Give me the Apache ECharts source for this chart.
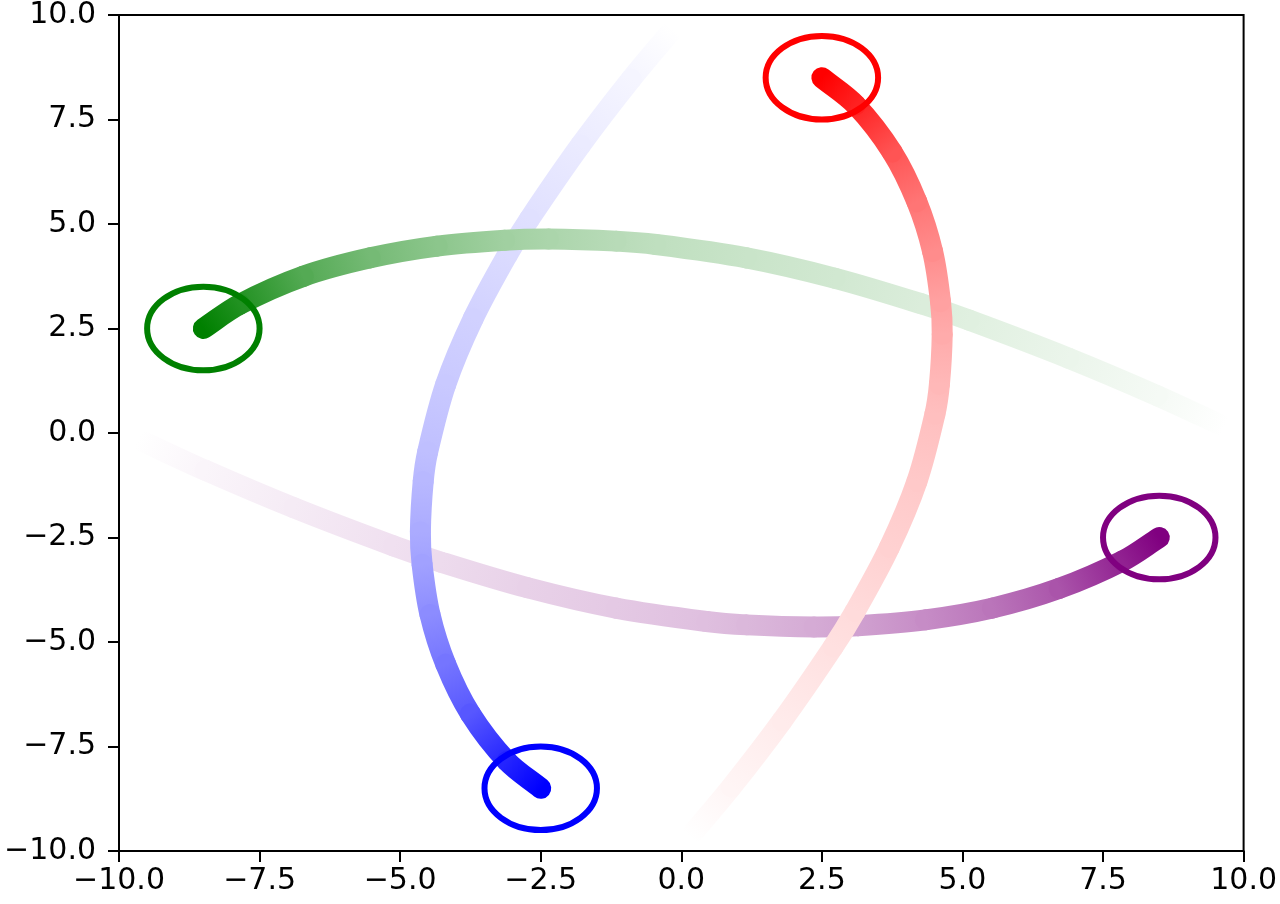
<!DOCTYPE html>
<html>
<head>
<meta charset="utf-8">
<script src="https://cdn.jsdelivr.net/npm/echarts@6/dist/echarts.min.js"></script>
<style>
html, body { margin: 0; padding: 0; background: #fff; }
#myCanvas { width: 1280px; height: 904px; }
</style>
</head>
<body>
<div id="myCanvas"></div>
<script>
// axis ticks (same on both axes)
var ticks = [-10, -7.5, -5, -2.5, 0, 2.5, 5, 7.5, 10];

// trails, tail -> head: [x, y, age] (age 0 = oldest/faded, 1 = current)
var redTrail = [
    [0.15, -9.66, 0.00], [0.89, -8.47, 0.04], [1.79, -6.89, 0.08], [2.70, -5.12, 0.12],
    [3.09, -4.27, 0.14], [3.70, -2.74, 0.18], [4.19, -1.16, 0.21], [4.51, 0.45, 0.25],
    [4.59, 1.16, 0.28], [4.64, 2.36, 0.33], [4.61, 3.14, 0.37], [4.47, 4.34, 0.45],
    [4.19, 5.53, 0.54], [3.75, 6.72, 0.67], [3.10, 7.85, 0.87], [2.50, 8.50, 1.00]
];
var greenTrail = [
    [9.66, 0.15, 0.00], [8.47, 0.89, 0.04], [6.89, 1.79, 0.08], [5.12, 2.70, 0.12],
    [4.27, 3.09, 0.14], [2.74, 3.70, 0.18], [1.16, 4.19, 0.21], [-0.45, 4.51, 0.25],
    [-1.16, 4.59, 0.28], [-2.36, 4.64, 0.33], [-3.14, 4.61, 0.37], [-4.34, 4.47, 0.45],
    [-5.53, 4.19, 0.54], [-6.72, 3.75, 0.67], [-7.85, 3.08, 0.87], [-8.50, 2.50, 1.00]
];
var blueTrail = [
    [-0.15, 9.66, 0.00], [-0.89, 8.47, 0.04], [-1.79, 6.89, 0.08], [-2.70, 5.12, 0.12],
    [-3.09, 4.27, 0.14], [-3.70, 2.74, 0.18], [-4.19, 1.16, 0.21], [-4.51, -0.45, 0.25],
    [-4.59, -1.16, 0.28], [-4.64, -2.36, 0.33], [-4.61, -3.14, 0.37], [-4.47, -4.34, 0.45],
    [-4.19, -5.53, 0.54], [-3.75, -6.72, 0.66], [-3.10, -7.85, 0.86], [-2.50, -8.50, 1.00]
];
var purpleTrail = [
    [-9.66, -0.15, 0.00], [-8.47, -0.89, 0.04], [-6.89, -1.79, 0.08], [-5.12, -2.70, 0.12],
    [-4.27, -3.09, 0.14], [-2.74, -3.70, 0.18], [-1.16, -4.19, 0.21], [0.45, -4.51, 0.25],
    [1.16, -4.59, 0.28], [2.36, -4.64, 0.33], [3.14, -4.61, 0.37], [4.34, -4.47, 0.45],
    [5.53, -4.19, 0.54], [6.72, -3.72, 0.67], [7.85, -3.06, 0.87], [8.50, -2.50, 1.00]
];

// ring around each head: [x, y, radius]
var heads = [[2.5, 8.5, 1], [-8.5, 2.5, 1], [-2.5, -8.5, 1], [8.5, -2.5, 1]];
var headColors = ['#ff0000', '#008000', '#0000ff', '#800080'];

function fade(rgb, t) {
    return 'rgb(' + rgb.map(function (c) { return Math.round(255 + (c - 255) * t); }).join(',') + ')';
}

function unit(a, b) {
    var dx = b[0] - a[0], dy = b[1] - a[1];
    var l = Math.sqrt(dx * dx + dy * dy) || 1;
    return [dx / l, dy / l];
}

function trailSeries(name, pts, rgb, z) {
    return {
        name: name,
        type: 'custom',
        z: z,
        silent: true,
        data: pts,
        encode: { x: 0, y: 1 },
        renderItem: function (params, api) {
            var i = params.dataIndex;
            if (i === 0) return null;
            var n = pts.length;
            var p = function (k) {
                k = Math.max(0, Math.min(n - 1, k));
                return api.coord([pts[k][0], pts[k][1]]);
            };
            var p0 = p(i - 2), p1 = p(i - 1), p2 = p(i), p3 = p(i + 1);
            var d = Math.sqrt(Math.pow(p2[0] - p1[0], 2) + Math.pow(p2[1] - p1[1], 2)) / 3;
            var t1 = unit(p0, p2), t2 = unit(p1, p3);
            return {
                type: 'bezierCurve',
                shape: {
                    x1: p1[0], y1: p1[1],
                    cpx1: p1[0] + t1[0] * d, cpy1: p1[1] + t1[1] * d,
                    cpx2: p2[0] - t2[0] * d, cpy2: p2[1] - t2[1] * d,
                    x2: p2[0], y2: p2[1]
                },
                style: {
                    fill: 'none',
                    stroke: new echarts.graphic.LinearGradient(p1[0], p1[1], p2[0], p2[1], [
                        { offset: 0, color: fade(rgb, pts[i - 1][2]) },
                        { offset: 1, color: fade(rgb, pts[i][2]) }
                    ], true),
                    lineWidth: 21,
                    lineCap: 'round'
                }
            };
        }
    };
}

var axisCommon = {
    type: 'value',
    min: ticks[0],
    max: ticks[ticks.length - 1],
    interval: ticks[1] - ticks[0],
    splitLine: { show: false },
    axisLine: { show: true, onZero: false, lineStyle: { color: '#000', width: 2 } },
    axisTick: { show: true, inside: false, length: 11, lineStyle: { color: '#000', width: 2 } },
    axisLabel: {
        color: '#000',
        fontFamily: 'DejaVu Sans',
        fontSize: 30,
        formatter: function (v) { return (v < 0 ? '\u2212' : '') + Math.abs(v).toFixed(1); }
    }
};

var myChart = echarts.init(document.getElementById('myCanvas'));
var option = {
    animation: false,
    backgroundColor: '#fff',
    grid: {
        left: 119, right: 36, top: 13, bottom: 53,
        show: true, borderColor: '#000', borderWidth: 2, backgroundColor: 'transparent'
    },
    xAxis: Object.assign({}, axisCommon, {
        axisLabel: Object.assign({}, axisCommon.axisLabel, { margin: 15 })
    }),
    yAxis: Object.assign({}, axisCommon, {
        axisLabel: Object.assign({}, axisCommon.axisLabel, { margin: 23 })
    }),
    series: [
        trailSeries('purple', purpleTrail, [128, 0, 128], 2),
        trailSeries('blue', blueTrail, [0, 0, 255], 3),
        trailSeries('green', greenTrail, [0, 128, 0], 4),
        trailSeries('red', redTrail, [255, 0, 0], 5),
        {
            name: 'heads',
            type: 'custom',
            z: 6,
            silent: true,
            data: heads,
            encode: { x: 0, y: 1 },
            renderItem: function (params, api) {
                var c = api.coord([api.value(0), api.value(1)]);
                var s = api.size([api.value(2), api.value(2)]);
                return {
                    type: 'ellipse',
                    shape: { cx: c[0], cy: c[1], rx: s[0], ry: s[1] },
                    style: { fill: 'none', stroke: headColors[params.dataIndex], lineWidth: 6 }
                };
            }
        }
    ]
};

myChart.setOption(option);
</script>
</body>
</html>
